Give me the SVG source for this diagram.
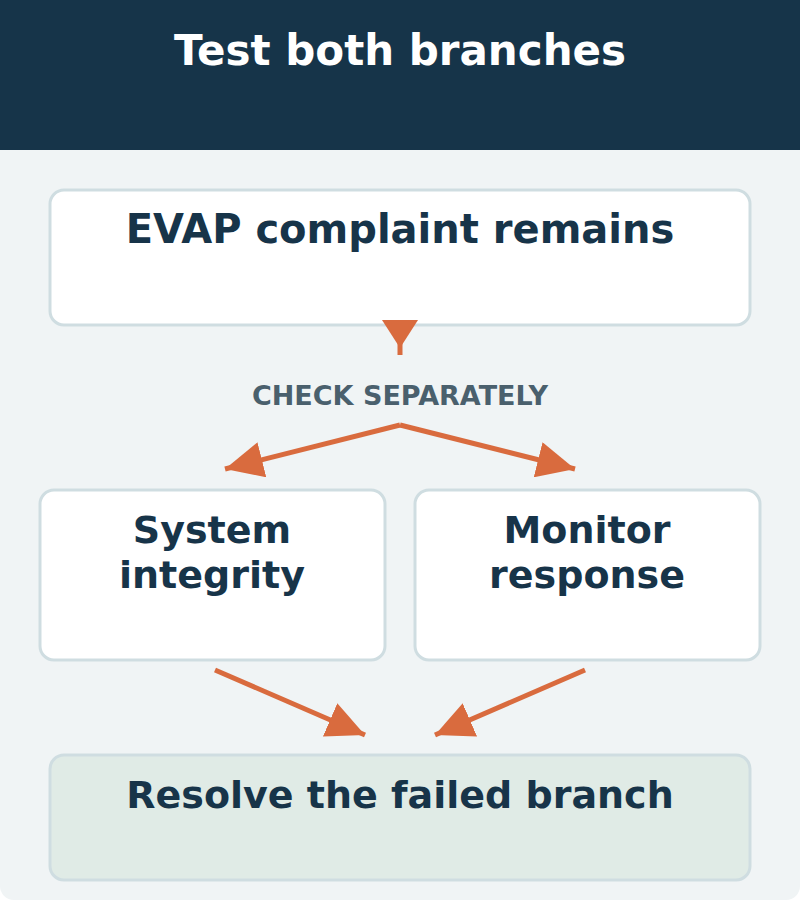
<svg xmlns="http://www.w3.org/2000/svg" width="800" height="900" viewBox="0 0 800 900">
<defs>
<style>
.t{font-family:"DejaVu Sans","Liberation Sans",sans-serif;font-weight:bold;text-anchor:middle;fill:#173449}
.box{fill:#ffffff;stroke:#cfdde1;stroke-width:3}
.conn{stroke:#d96b3e;stroke-width:5;fill:none}
</style>
<marker id="ah" markerUnits="userSpaceOnUse" markerWidth="40" markerHeight="36" refX="38" refY="18" orient="auto">
<path d="M0,0 L38,18 L0,36 Z" fill="#d96b3e"/>
</marker>
</defs>
<rect x="0" y="0" width="800" height="900" fill="#ffffff"/>
<rect x="0" y="100" width="800" height="800" rx="14" fill="#f0f4f5"/>
<rect x="0" y="0" width="800" height="150" fill="#163449"/>
<text class="t" x="400" y="65" font-size="42" style="fill:#ffffff">Test both branches</text>
<g id="n-evap">
<rect class="box" x="50" y="190" width="700" height="135" rx="14"/>
<text class="t" x="400" y="243" font-size="40">EVAP complaint remains</text>
</g>
<g id="n-system">
<rect class="box" x="40" y="490" width="345" height="170" rx="14"/>
<text class="t" x="212" y="543" font-size="38">System</text>
<text class="t" x="212" y="588" font-size="38">integrity</text>
</g>
<g id="n-monitor">
<rect class="box" x="415" y="490" width="345" height="170" rx="14"/>
<text class="t" x="587" y="543" font-size="38">Monitor</text>
<text class="t" x="587" y="588" font-size="38">response</text>
</g>
<g id="n-resolve">
<rect class="box" x="50" y="755" width="700" height="125" rx="14" style="fill:#e0ebe6"/>
<text class="t" x="400" y="808" font-size="38">Resolve the failed branch</text>
</g>
<g id="label">
<text class="t" x="400" y="405" font-size="27" style="fill:#4a606d">CHECK SEPARATELY</text>
</g>
<g id="connectors">
<line class="conn" x1="400" y1="340" x2="400" y2="355"/>
<polygon points="382,320 418,320 400,348" fill="#d96b3e"/>
<line class="conn" x1="400" y1="425" x2="225" y2="469" marker-end="url(#ah)"/>
<line class="conn" x1="400" y1="425" x2="575" y2="469" marker-end="url(#ah)"/>
<line class="conn" x1="215" y1="670" x2="365" y2="735" marker-end="url(#ah)"/>
<line class="conn" x1="585" y1="670" x2="435" y2="735" marker-end="url(#ah)"/>
</g>
</svg>
